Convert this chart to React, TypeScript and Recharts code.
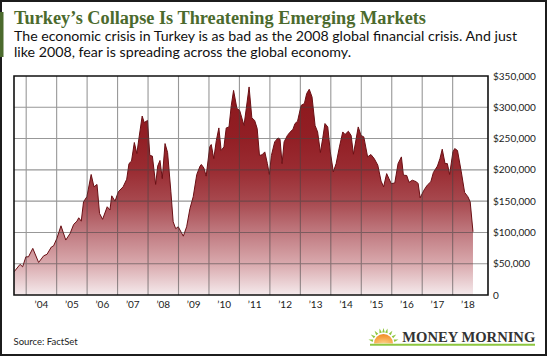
import React from "react";
import { AreaChart, Area, XAxis, YAxis } from "recharts";

const obsDates = [
  2003.6, 2003.8, 2003.883, 2003.99,
  2004.075, 2004.217, 2004.408, 2004.575, 2004.683, 2004.825, 2004.9,
  2005.008, 2005.142, 2005.3, 2005.442, 2005.558, 2005.667, 2005.725, 2005.808, 2005.883, 2005.992,
  2006.133, 2006.225, 2006.325, 2006.408, 2006.508, 2006.66, 2006.75, 2006.808, 2006.917,
  2007.025, 2007.183, 2007.3, 2007.375, 2007.458, 2007.55, 2007.633, 2007.708, 2007.808, 2007.875, 2007.983,
  2008.058, 2008.142, 2008.25, 2008.317, 2008.392, 2008.467, 2008.558, 2008.642, 2008.75, 2008.825, 2008.908, 2008.992,
  2009.158, 2009.267, 2009.375, 2009.483, 2009.6, 2009.708, 2009.75, 2009.833, 2009.908,
  2010.025, 2010.075, 2010.158, 2010.242, 2010.325, 2010.4, 2010.492, 2010.567, 2010.658, 2010.733, 2010.808, 2010.917,
  2011.008, 2011.15, 2011.225, 2011.317, 2011.408, 2011.5, 2011.583, 2011.658, 2011.742, 2011.833, 2011.917, 2011.983,
  2012.05, 2012.158, 2012.267, 2012.333, 2012.4, 2012.467, 2012.575, 2012.65, 2012.758, 2012.825, 2012.908,
  2013.025, 2013.133, 2013.208, 2013.292, 2013.383, 2013.483, 2013.567, 2013.658, 2013.733, 2013.808, 2013.9, 2013.983,
  2014.083, 2014.175, 2014.283, 2014.392, 2014.467, 2014.575, 2014.667, 2014.742, 2014.833, 2014.9, 2014.992,
  2015.083, 2015.208, 2015.317, 2015.425, 2015.542, 2015.65, 2015.733, 2015.833, 2015.908, 2015.983,
  2016.1, 2016.208, 2016.317, 2016.383, 2016.492, 2016.567, 2016.675, 2016.808, 2016.867, 2016.933,
  2017.058, 2017.167, 2017.283, 2017.367, 2017.5, 2017.583, 2017.658, 2017.75, 2017.825, 2017.9,
  2018.008, 2018.067, 2018.158, 2018.283, 2018.392, 2018.5, 2018.575, 2018.667,
];

const obsValues = [
  37, 49, 45, 61,
  61, 74.5, 52, 62.7, 65, 76.6, 78.6,
  90.5, 110.6, 87.8, 98.4, 112.8, 118, 123.4, 118, 149, 157,
  192.6, 172.9, 176.7, 130.4, 121, 141, 136, 158.5, 150,
  165, 173, 185, 210, 214, 243.7, 226, 252.7, 286, 275.6, 279,
  223, 222, 176.7, 206, 215, 186, 242, 227.7, 165, 117, 106, 109,
  94, 109, 138, 157, 192.6, 206, 208.6, 203, 190,
  236.7, 240.5, 218, 247, 267, 231, 236.7, 267, 268.6, 303, 327, 298,
  295, 271, 298, 332.5, 283, 279, 266, 223, 224, 228.7, 210, 192.6,
  223, 244.7, 251, 249, 210, 244.7, 255, 259.6, 265, 274, 277.7,
  303, 306, 322, 328.8, 316.5, 271, 260.6, 227.7, 250, 274, 268.6, 228.7,
  196.8, 210, 236.7, 260.6, 256.5, 261.7, 255, 225, 250, 268.6, 255,
  252.7, 220.7, 224.5, 218, 207.5, 182, 172.9, 194, 186, 178,
  179, 210, 220.7, 191.5, 191, 180, 183.5, 181, 178, 155.3,
  167.6, 175.6, 181, 195.8, 206, 218, 233, 210, 210, 192.6,
  228.7, 234, 231, 196.8, 164, 157, 149, 101,
];

const yearStarts = [2004, 2005, 2006, 2007, 2008, 2009, 2010, 2011, 2012, 2013, 2014, 2015, 2016, 2017, 2018];
const yearLabelTicks = yearStarts.map((y) => y + 0.5);
const yTicks = [0, 50000, 100000, 150000, 200000, 250000, 300000, 350000];
const xDomain: [number, number] = [2003.6, 2019.16];
const yDomain: [number, number] = [0, 350000];

const data = obsDates.map((t, i) => ({ t, v: obsValues[i] * 1000 }));

// chart layout (same numbers that are passed to the chart)
const W = 550;
const H = 356;
const M = { top: 76, right: 0, bottom: 41, left: 14 };
const X_AXIS_H = 20;
const Y_AXIS_W = 62;
const PL = M.left;
const PR = W - M.right - Y_AXIS_W;
const PT = M.top;
const PB = H - M.bottom - X_AXIS_H;
const sx = (t: number) => PL + ((t - xDomain[0]) / (xDomain[1] - xDomain[0])) * (PR - PL);
const sy = (v: number) => PB - ((v - yDomain[0]) / (yDomain[1] - yDomain[0])) * (PB - PT);

const gridPath =
  yTicks
    .slice(1, -1)
    .map((v) => `M${PL},${sy(v).toFixed(2)}H${PR}`)
    .join("") +
  yearStarts.map((t) => `M${sx(t).toFixed(2)},${PT}V${PB}`).join("");
const framePath = `M${PL},${PT}H${PR}V${PB}H${PL}Z`;

const fmtY = (v: number) => (v === 0 ? "0" : "$" + v.toLocaleString("en-US"));
const fmtX = (t: number) => "\u2019" + String(Math.floor(t)).slice(2);

const SANS = "Lato, 'Open Sans', sans-serif";
const SERIF = "'Liberation Serif', 'DejaVu Serif', serif";

const rays = [195, 215, 235, 255, 270, 285, 305, 325, 345];

export default function App() {
  return (
    <div style={{ position: "fixed", left: 0, top: 0, width: W, height: H, background: "#fff" }}>
      <div style={{ position: "absolute", left: 0, top: 0 }}>
        <AreaChart width={W} height={H} data={data} margin={M}>
          <defs>
            <linearGradient id="turkeyFill" x1="0" y1="0" x2="0" y2="1">
              <stop offset="0" stopColor="#8c171c" />
              <stop offset="0.25" stopColor="#921f25" />
              <stop offset="0.4" stopColor="#9a2c32" />
              <stop offset="0.555" stopColor="#a84a50" />
              <stop offset="0.7" stopColor="#c07a80" />
              <stop offset="0.85" stopColor="#d9a9ad" />
              <stop offset="1" stopColor="#f5eaec" />
            </linearGradient>
          </defs>
          <XAxis
            dataKey="t"
            type="number"
            domain={xDomain}
            allowDataOverflow
            ticks={yearLabelTicks}
            tickFormatter={fmtX}
            axisLine={false}
            tickLine={false}
            tickSize={0}
            tickMargin={6}
            height={X_AXIS_H}
            interval={0}
            tick={{ fill: "#222", fontSize: 10, fontFamily: SANS }}
          />
          <YAxis
            orientation="right"
            type="number"
            domain={yDomain}
            allowDataOverflow
            ticks={yTicks}
            tickFormatter={fmtY}
            axisLine={false}
            tickLine={false}
            tickSize={0}
            tickMargin={5}
            width={Y_AXIS_W}
            interval={0}
            tick={{ fill: "#222", fontSize: 10, fontFamily: SANS }}
          />
          <Area
            type="linear"
            dataKey="v"
            stroke="#6a0f14"
            strokeWidth={1}
            fill="url(#turkeyFill)"
            fillOpacity={1}
            isAnimationActive={false}
            dot={false}
            activeDot={false}
          />
        </AreaChart>
      </div>
      <svg
        width={W}
        height={H}
        style={{ position: "absolute", left: 0, top: 0, pointerEvents: "none" }}
      >
        <defs>
          <radialGradient id="sunFill" cx="0.5" cy="1" r="1">
            <stop offset="0" stopColor="#fbd38a" />
            <stop offset="0.6" stopColor="#f7a444" />
            <stop offset="1" stopColor="#f08a24" />
          </radialGradient>
        </defs>
        <path d={gridPath} fill="none" stroke="#444" strokeOpacity={0.55} strokeWidth={1.1} />
        <path d={framePath} fill="none" stroke="#111" strokeWidth={1.6} />
        <rect x={1} y={1} width={545} height={354} fill="none" stroke="#1c1c1c" strokeWidth={2} />
        <rect x={0} y={12} width={3.5} height={45} fill="#4b6a2d" />
        <text x={14} y={24} fontFamily={SERIF} fontWeight="bold" fontSize={18} fill="#4b6a2d" textLength={412} lengthAdjust="spacingAndGlyphs">
          Turkey’s Collapse Is Threatening Emerging Markets
        </text>
        <text x={14} y={41} fontFamily={SANS} fontSize={13} fill="#111" textLength={503} lengthAdjust="spacingAndGlyphs">
          The economic crisis in Turkey is as bad as the 2008 global financial crisis. And just
        </text>
        <text x={14} y={57.3} fontFamily={SANS} fontSize={13} fill="#111" textLength={337} lengthAdjust="spacingAndGlyphs">
          like 2008, fear is spreading across the global economy.
        </text>
        <text x={13.5} y={345} fontFamily={SANS} fontSize={9.5} fill="#222">
          Source: FactSet
        </text>
        {rays.map((a) => {
          const r = (a * Math.PI) / 180;
          const cx = 383.5;
          const cy = 343.5;
          const p = (rad: number, off: number) =>
            `${cx + Math.cos(r + off) * rad},${cy + Math.sin(r + off) * rad}`;
          return (
            <polygon key={a} points={`${p(11, -0.12)} ${p(15.5, 0)} ${p(11, 0.12)}`} fill="#8dc63f" />
          );
        })}
        <path d="M 374 343.5 A 9.5 9.5 0 0 1 393 343.5 Z" fill="url(#sunFill)" />
        <line x1={370} y1={344.8} x2={535} y2={344.8} stroke="#8dc63f" strokeWidth={2} />
        <text x={402.3} y={342.3} fontFamily={SERIF} fontWeight="bold" fontSize={14.5} fill="#333" textLength={133} lengthAdjust="spacingAndGlyphs">
          MONEY MORNING
        </text>
      </svg>
    </div>
  );
}
